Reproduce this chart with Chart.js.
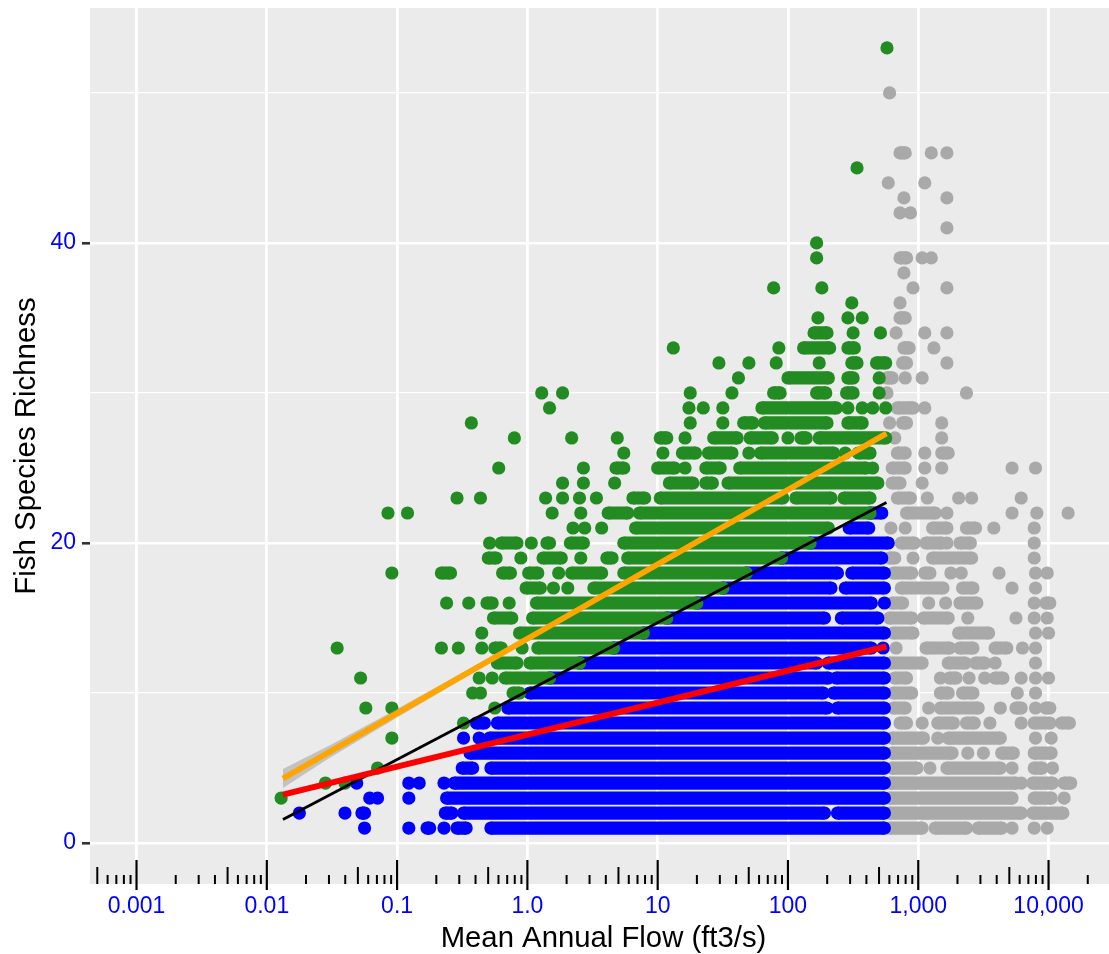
<!DOCTYPE html>
<html>
<head>
<meta charset="utf-8">
<style>
  body { margin: 0; background: #fff; }
  canvas { display: block; }
</style>
</head>
<body>
<canvas id="myChart" width="1109" height="954"></canvas>
<script src="https://cdn.jsdelivr.net/npm/chart.js@4/dist/chart.umd.js"></script>
<script>
// Every row is [richness, items]; flows are log10(ft3/s).
// An item is one site (number) or [from, to] for a stretch of sites that overlap solidly.
const greenRows = [
  [53, [2.76]], [45, [2.53]], [40, [2.22]], [39, [2.22]],
  [37, [1.89, 2.26]], [36, [2.49]], [35, [2.23, 2.46, 2.57]],
  [34, [[2.20, 2.30], 2.50, 2.71]],
  [33, [1.12, 1.93, [2.12, 2.32], [2.46, 2.51]]],
  [32, [1.47, 1.70, 1.91, 2.24, [2.49, 2.53], [2.68, 2.75]]],
  [31, [1.62, [2.00, 2.31], [2.46, 2.50], 2.70]],
  [30, [0.11, 0.27, 1.25, 1.57, [1.89, 1.94], [2.22, 2.29], [2.45, 2.50], 2.70]],
  [29, [0.17, 1.24, 1.35, 1.50, [1.80, 2.37], 2.46, 2.57, 2.65, 2.75]],
  [28, [-0.43, 1.25, 1.50, [1.66, 1.73], [1.82, 2.30], [2.46, 2.57]]],
  [27, [-0.10, 0.34, 0.69, [1.02, 1.07], 1.21, [1.43, 1.61], [1.71, 1.88], 2.00, [2.10, 2.14], [2.24, 2.75]]],
  [26, [0.74, 1.04, [1.19, 1.29], [1.39, 1.57], 1.70, [1.79, 2.35], 2.44, [2.54, 2.63]]],
  [25, [-0.22, 0.43, [0.68, 0.74], [1.00, 1.13], 1.21, [1.37, 1.48], [1.63, 2.60], 2.65]],
  [24, [0.27, 0.43, 0.67, [1.09, 1.27], [1.37, 1.42], [1.54, 2.69]]],
  [23, [-0.54, -0.36, 0.14, 0.27, 0.40, 0.53, [0.81, 0.90], [1.02, 1.96], [2.06, 2.33], [2.43, 2.63]]],
  [22, [-1.07, -0.92, 0.19, 0.41, [0.62, 0.77], [0.86, 2.63]]],
  [21, [0.35, 0.44, 0.57, [0.83, 2.31]]],
  [20, [-0.29, [-0.20, -0.08], 0.03, [0.15, 0.17], [0.33, 0.43], [0.74, 2.17]]],
  [19, [[-0.30, -0.24], -0.05, [0.12, 0.26], 0.41, [0.61, 0.65], [0.77, 1.95]]],
  [18, [-1.04, [-0.66, -0.59], [-0.19, -0.13], [0.01, 0.08], 0.24, [0.34, 0.57], [0.74, 1.68]]],
  [17, [[-0.01, 0.10], 0.20, 0.31, [0.51, 1.50]]],
  [16, [-0.62, -0.45, [-0.31, -0.27], -0.14, [0.07, 1.30]]],
  [15, [[-0.26, -0.12], [0.04, 1.07]]],
  [14, [-0.35, [-0.06, 0.89]]],
  [13, [-1.46, -0.66, -0.53, -0.35, [-0.25, -0.20], -0.04, [0.08, 0.66]]],
  [12, [[-0.23, -0.08], [0.02, 0.40]]],
  [11, [-1.28, -0.37, -0.27, [-0.17, 0.17]]],
  [10, [-0.42, -0.36, [-0.11, -0.06]]],
  [9, [-1.24, -1.04, -0.25]],
  [8, [-0.49]], [7, [-1.04]], [5, [-1.15]], [4, [-1.55, -1.40]], [3, [-1.89]]
];

const blueRows = [
  [22, [[2.63, 2.72]]],
  [21, [[2.47, 2.62]]],
  [20, [[2.17, 2.77]]],
  [19, [[1.95, 2.72]]],
  [18, [[1.68, 2.38], [2.49, 2.74]]],
  [17, [[1.50, 2.33], [2.44, 2.74]]],
  [16, [[1.30, 2.64], 2.74]],
  [15, [[1.07, 2.28], [2.41, 2.69]]],
  [14, [[0.89, 2.74]]],
  [13, [[0.66, 2.64], 2.73]],
  [12, [[0.40, 2.22], [2.31, 2.74]]],
  [11, [[0.17, 2.31], [2.37, 2.74]]],
  [10, [[0.02, 2.27], [2.35, 2.74]]],
  [9, [[-0.15, 2.30], [2.38, 2.74]]],
  [8, [[-0.39, -0.33], [-0.23, 2.74]]],
  [7, [-0.49, -0.37, [-0.29, 2.74]]],
  [6, [[-0.44, 2.74]]],
  [5, [[-0.50, -0.42], [-0.28, 2.74]]],
  [4, [-1.31, -0.91, -0.83, -0.64, [-0.56, 2.74]]],
  [3, [-1.21, -1.15, -0.91, [-0.62, 2.74]]],
  [2, [-1.75, -1.40, [-1.27, -1.25], [-0.63, -0.58], [-0.49, 2.28], [2.38, 2.74]]],
  [1, [-1.25, -0.91, [-0.77, -0.75], -0.64, [-0.54, -0.47], [-0.28, 2.74]]]
];

const grayRows = [
  [50, [2.78]],
  [46, [[2.86, 2.90], 3.10, 3.22]],
  [44, [2.77, 3.05]],
  [43, [2.89, 3.22]],
  [42, [2.86, 2.94]],
  [41, [3.22]],
  [39, [[2.86, 2.91], 3.03, 3.10]],
  [38, [2.89]],
  [37, [2.96, 3.22]],
  [36, [2.86]],
  [35, [[2.86, 2.90]]],
  [34, [2.83, 3.05, 3.22]],
  [33, [[2.89, 2.93], 3.12]],
  [32, [[2.88, 2.91], 3.22]],
  [31, [[2.76, 2.80], 2.90, 3.03]],
  [30, [2.76, 3.37]],
  [29, [[2.84, 2.96], 3.05]],
  [28, [2.78, [2.88, 2.91], 3.18]],
  [27, [2.82, 3.18]],
  [26, [[2.84, 2.90], 3.05, [3.18, 3.23]]],
  [25, [[2.80, 2.90], 3.05, 3.18, 3.72, 3.90]],
  [24, [[2.80, 2.86], 3.03]],
  [23, [[2.84, 2.94], 3.07, 3.31, 3.41, 3.79]],
  [22, [[2.91, 3.13], 3.22, 3.72, 3.91, 4.15]],
  [21, [2.79, 2.90, [3.11, 3.22], [3.37, 3.44], 3.58, 3.89]],
  [20, [[2.87, 2.97], [3.06, 3.18], 3.22, [3.32, 3.40], 3.89]],
  [19, [[2.78, 2.82], 2.96, [3.11, 3.41], 3.89]],
  [18, [[2.81, 2.95], [3.05, 3.09], 3.25, 3.33, 3.62, 3.90, 3.99]],
  [17, [[2.87, 3.19], [3.34, 3.42], 3.72, 3.90]],
  [16, [[2.80, 2.88], 3.08, 3.21, [3.32, 3.45], 3.89, [3.98, 4.01]]],
  [15, [[2.78, 2.95], [3.04, 3.23], 3.38, 3.75, 3.89, 3.99]],
  [14, [[2.81, 2.96], [3.31, 3.54], 3.90, 4.00]],
  [13, [2.83, [3.06, 3.24], [3.32, 3.42], [3.59, 3.68], 3.80, 3.90]],
  [12, [[2.78, 3.03], [3.23, 3.36], [3.44, 3.51], 3.59, 3.90]],
  [11, [[2.82, 2.91], 3.17, [3.24, 3.29], 3.39, 3.51, [3.59, 3.65], 3.79, 3.90, 4.00]],
  [10, [[2.81, 2.95], [3.17, 3.23], [3.34, 3.42], 3.76, 3.90]],
  [9, [[2.81, 2.90], 3.08, [3.17, 3.46], 3.63, [3.75, 3.79], 3.90, [3.98, 4.01]]],
  [8, [[2.86, 2.91], 3.03, [3.15, 3.27], [3.37, 3.43], 3.55, 3.79, [3.89, 4.01], [4.10, 4.16]]],
  [7, [[2.80, 3.04], 3.15, [3.23, 3.63], 3.90, 4.02]],
  [6, [[2.80, 3.26], 3.38, 3.50, [3.64, 3.73], [3.89, 4.02]]],
  [5, [[2.80, 2.99], 3.09, [3.22, 3.63], 3.72, [3.89, 3.95], 4.03]],
  [4, [[2.78, 3.75], 3.79, [3.88, 4.03], [4.12, 4.17]]],
  [3, [[2.78, 3.72], [3.89, 4.02], 4.12]],
  [2, [[2.78, 3.79], [3.88, 4.11]]],
  [1, [[2.78, 3.03], [3.13, 3.37], [3.46, 3.64], 3.72, 3.89, 3.99]]
];

// fitted lines, from their two ends
const fitFlows = [0.0133, 570];
const orangeFit = [4.3, 27.3];
const blackFit = [1.57, 22.7];
const redFit = [3.23, 13.1];

// grey band round the orange fit
const bandFlows = [0.0133, 0.03, 0.1, 1, 10, 100, 570];
const bandUpper = [4.93, 6.49, 8.94, 13.78, 18.72, 23.7, 27.45];
const bandLower = [3.67, 5.65, 8.36, 13.46, 18.48, 23.44, 27.15];

const xTicks = [0.001, 0.01, 0.1, 1, 10, 100, 1000, 10000];
const xTickLabels = ['0.001', '0.01', '0.1', '1.0', '10', '100', '1,000', '10,000'];
const yTicks = [0, 10, 20, 30, 40, 50];
const yTickLabels = ['0', '', '20', '', '40', ''];

// log ticks along the bottom of the panel
const rugMid = [0.0005, 0.005, 0.05, 0.5, 5, 50, 500, 5000];
const rugSmall = [
  0.0006, 0.0007, 0.0008, 0.0009,
  0.002, 0.003, 0.004, 0.006, 0.007, 0.008, 0.009,
  0.02, 0.03, 0.04, 0.06, 0.07, 0.08, 0.09,
  0.2, 0.3, 0.4, 0.6, 0.7, 0.8, 0.9,
  2, 3, 4, 6, 7, 8, 9,
  20, 30, 40, 60, 70, 80, 90,
  200, 300, 400, 600, 700, 800, 900,
  2000, 3000, 4000, 6000, 7000, 8000, 9000,
  20000
];

function rowsToPoints(rows) {
  const pts = [];
  rows.forEach(function (row) {
    row[1].forEach(function (item) {
      if (Array.isArray(item)) {
        pts.push({ x: Math.pow(10, item[0]), y: row[0] });
        pts.push({ x: Math.pow(10, item[1]), y: row[0] });
      } else {
        pts.push({ x: Math.pow(10, item), y: row[0] });
      }
      pts.push({ x: 1, y: null }); // break the line
    });
  });
  return pts;
}

function sitesDataset(rows, color, order) {
  return {
    data: rowsToPoints(rows),
    showLine: true,
    borderColor: color,
    borderWidth: 13.2,
    borderCapStyle: 'butt',
    backgroundColor: color,
    pointBackgroundColor: color,
    pointBorderWidth: 0,
    pointRadius: 6.6,
    order: order
  };
}

function fitDataset(ys, color, width, order) {
  return {
    data: fitFlows.map(function (x, i) { return { x: x, y: ys[i] }; }),
    showLine: true,
    borderColor: color,
    borderWidth: width,
    borderCapStyle: 'butt',
    pointRadius: 0,
    order: order
  };
}

function bandDataset(ys, fill) {
  return {
    data: bandFlows.map(function (x, i) { return { x: x, y: ys[i] }; }),
    showLine: true,
    borderWidth: 0,
    pointRadius: 0,
    backgroundColor: 'rgba(153,153,153,0.5)',
    fill: fill,
    order: 2
  };
}

// labels must not push the panel in from the edges of the page
function noLabelMargins(scale) {
  scale.paddingLeft = 0;
  scale.paddingRight = 0;
  scale.paddingTop = 0;
  scale.paddingBottom = 0;
}

const panelPlugin = {
  id: 'panel',
  beforeDraw: function (chart) {
    const a = chart.chartArea, c = chart.ctx;
    c.save();
    c.fillStyle = '#EBEBEB';
    c.fillRect(a.left, a.top, a.right - a.left, a.bottom - a.top);
    c.restore();
  },
  afterDatasetsDraw: function (chart) {
    const c = chart.ctx, xs = chart.scales.x, bottom = chart.chartArea.bottom;
    function rug(values, top, end, width) {
      c.lineWidth = width;
      values.forEach(function (v) {
        const px = xs.getPixelForValue(v);
        c.beginPath();
        c.moveTo(px, top);
        c.lineTo(px, end);
        c.stroke();
      });
    }
    c.save();
    c.strokeStyle = '#000';
    rug(rugSmall, bottom - 9, bottom, 2);
    rug(rugMid, bottom - 17, bottom, 2);
    rug(xTicks, bottom - 24, bottom + 6, 2.2);
    c.restore();
  },
  // the page crops the panel on the right, so this title sits right of the panel's centre
  afterDraw: function (chart) {
    const c = chart.ctx;
    c.save();
    c.fillStyle = '#000';
    c.font = '29.3px "Liberation Sans"';
    c.textAlign = 'center';
    c.textBaseline = 'middle';
    c.fillText('Mean Annual Flow (ft3/s)', 603.5, 939);
    c.restore();
  }
};

const ctx = document.getElementById('myChart');

new Chart(ctx, {
  type: 'scatter',
  data: {
    datasets: [
      sitesDataset(grayRows, '#A9A9A9', 6),
      sitesDataset(blueRows, '#0000FF', 5),
      sitesDataset(greenRows, '#228B22', 4),
      bandDataset(bandUpper, '+1'),
      bandDataset(bandLower, false),
      fitDataset(blackFit, '#000000', 2.8, 3),
      fitDataset(redFit, '#FF0000', 6, 1),
      fitDataset(orangeFit, '#FFA500', 5.6, 1)
    ]
  },
  options: {
    responsive: false,
    animation: false,
    devicePixelRatio: 1,
    layout: { autoPadding: false, padding: { top: 8, right: 0, left: 0, bottom: 0 } },
    plugins: { legend: { display: false }, tooltip: { enabled: false } },
    scales: {
      x: {
        type: 'logarithmic',
        min: Math.pow(10, -3.357),
        max: Math.pow(10, 4.464),
        afterFit: function (scale) { scale.height = 70; noLabelMargins(scale); },
        afterBuildTicks: function (scale) {
          scale.ticks = xTicks.map(function (v) { return { value: v }; });
        },
        border: { display: false },
        grid: { color: '#fff', lineWidth: 2.8, drawTicks: false },
        ticks: {
          autoSkip: false,
          maxRotation: 0,
          padding: 9,
          color: '#0000FF',
          font: { family: '"Liberation Sans"', size: 23 },
          callback: function (value) { return xTickLabels[xTicks.indexOf(value)]; }
        }
      },
      y: {
        type: 'linear',
        min: -2.73,
        max: 55.66,
        afterFit: function (scale) { scale.width = 90; noLabelMargins(scale); },
        afterBuildTicks: function (scale) {
          scale.ticks = yTicks.map(function (v) { return { value: v }; });
        },
        border: { display: false },
        grid: {
          color: '#fff',
          lineWidth: function (c) { return c.tick && c.tick.value % 20 === 0 ? 2.6 : 1.3; },
          tickColor: function (c) { return c.tick && c.tick.value % 20 === 0 ? '#333333' : 'rgba(0,0,0,0)'; },
          tickLength: 8
        },
        ticks: {
          autoSkip: false,
          padding: 6,
          color: '#0000FF',
          font: { family: '"Liberation Sans"', size: 23 },
          callback: function (value) { return yTickLabels[yTicks.indexOf(value)]; }
        },
        title: {
          display: true,
          text: 'Fish Species Richness',
          color: '#000',
          font: { family: '"Liberation Sans"', size: 29.4 },
          padding: { top: 9, bottom: 0 }
        }
      }
    }
  },
  plugins: [panelPlugin]
});
</script>
</body>
</html>
